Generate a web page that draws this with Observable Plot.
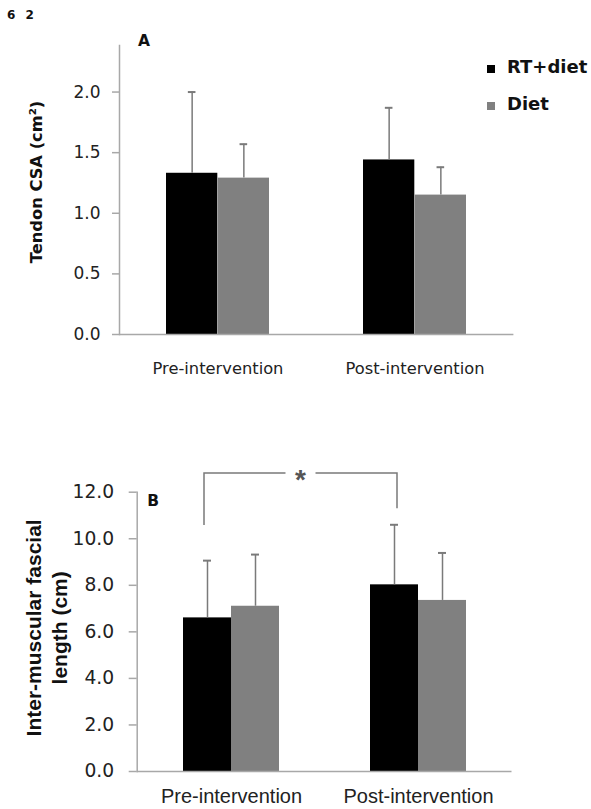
<!DOCTYPE html>
<html>
<head>
<meta charset="utf-8">
<script src="https://cdn.jsdelivr.net/npm/d3@7"></script>
<script src="https://cdn.jsdelivr.net/npm/@observablehq/plot@0.6"></script>
<style>
  body { margin: 0; background: #fff; }
  #wrap { position: relative; width: 591px; height: 809px; overflow: hidden; font-family: "DejaVu Sans", sans-serif; }
  #panelA { position: absolute; left: 0; top: 0; z-index: 1; }
  #panelB { position: absolute; left: 0; top: 400px; z-index: 1; }
  #fighead { position: absolute; z-index: 5; left: 7px; top: 9px; font: bold 12px "DejaVu Sans", sans-serif; line-height: 1; color: #111; white-space: pre; letter-spacing: 3px; }
  #legend { position: absolute; left: 0; top: 0; z-index: 5; }
  .sw { position: absolute; width: 8px; height: 8px; }
  .lt { position: absolute; font: bold 18px "DejaVu Sans", sans-serif; line-height: 1; color: #111; white-space: nowrap; }
</style>
</head>
<body>
<div id="wrap">
  <div id="fighead">6 2</div>
  <div id="panelA"></div>
  <div id="panelB"></div>
  <div id="legend"></div>
</div>
<script>
// ---- data ----
const groups = ["Pre-intervention", "Post-intervention"];
const seriesNames = ["RT+diet", "Diet"];
const seriesColors = ["#000000", "#808080"];

// Panel A: Tendon CSA (cm²)
const csaRT = [1.33, 1.44];
const csaRTsd = [0.67, 0.43];
const csaDiet = [1.29, 1.15];
const csaDietSd = [0.28, 0.23];
const csaTicks = [0, 0.5, 1.0, 1.5, 2.0];

// Panel B: Inter-muscular fascial length (cm)
const lenRT = [6.60, 8.02];
const lenRTsd = [2.46, 2.58];
const lenDiet = [7.10, 7.35];
const lenDietSd = [2.22, 2.04];
const lenTicks = [0, 2, 4, 6, 8, 10, 12];

// significance bracket (RT+diet pre vs post), in data units
const sigLevel = 12.8;
const sigFeet = [10.57, 11.29];
const sigLabel = "*";

function rowsFor(m1, s1, m2, s2) {
  return groups.flatMap((g, i) => [
    {group: g, series: seriesNames[0], mean: m1[i], sd: s1[i]},
    {group: g, series: seriesNames[1], mean: m2[i], sd: s2[i]}
  ]);
}

function makePanel(o) {
  const step = (o.width - o.mL - o.mR) / 2;
  const bw = step * (1 - o.pi);
  const barW = bw / 2;
  const rows = rowsFor(o.m1, o.s1, o.m2, o.s2);
  const s0 = rows.filter(d => d.series === seriesNames[0]);
  const s1 = rows.filter(d => d.series === seriesNames[1]);
  const errStroke = "#7a7a7a";
  const capHalf = 4;
  const plot = Plot.plot({
    width: o.width, height: o.height,
    marginLeft: o.mL, marginRight: o.mR, marginTop: o.mT, marginBottom: o.mB,
    style: {fontFamily: "DejaVu Sans, sans-serif", background: "transparent", overflow: "visible", color: "#222"},
    x: {domain: groups, paddingInner: o.pi, paddingOuter: o.pi / 2, label: null},
    y: {domain: o.yDomain, label: null},
    marks: [
      Plot.barY(s0, {x: "group", y: "mean", fill: seriesColors[0], insetRight: barW}),
      Plot.barY(s1, {x: "group", y: "mean", fill: seriesColors[1], insetLeft: barW}),
      Plot.ruleX(s0, {x: "group", y1: "mean", y2: d => d.mean + d.sd, dx: -barW / 2, stroke: errStroke, strokeWidth: 1.5}),
      Plot.ruleX(s1, {x: "group", y1: "mean", y2: d => d.mean + d.sd, dx: barW / 2, stroke: errStroke, strokeWidth: 1.5}),
      Plot.tickY(s0, {x: "group", y: d => d.mean + d.sd, insetLeft: barW / 2 - capHalf, insetRight: bw - barW / 2 - capHalf, stroke: errStroke, strokeWidth: 2}),
      Plot.tickY(s1, {x: "group", y: d => d.mean + d.sd, insetLeft: bw - barW / 2 - capHalf, insetRight: barW / 2 - capHalf, stroke: errStroke, strokeWidth: 2}),
      Plot.ruleY([0], {stroke: "#a8a8a8", strokeWidth: 1.5}),
      Plot.frame({anchor: "left", stroke: "#a8a8a8", strokeWidth: 1.5}),
      Plot.axisY({ticks: o.ticks, tickFormat: d => d.toFixed(1), tickSize: o.tickSize, tickPadding: o.tickPad,
        stroke: "#a8a8a8", strokeWidth: 1.5, fill: "#222", fontSize: o.tickFont, fontFamily: "DejaVu Sans, sans-serif", label: null}),
      Plot.axisX({tickSize: 0, tickPadding: o.xPad, fill: "#222", fontSize: o.xFont, fontFamily: o.xFamily, label: null}),
      Plot.text([o.yLabel], {frameAnchor: "left", text: d => d, rotate: -90, dx: o.yLabelDx, dy: o.yLabelDy,
        textAnchor: "middle", lineAnchor: "middle", fontSize: o.yLabelFont, fontWeight: "bold",
        fontFamily: o.yLabelFamily, lineHeight: o.yLabelLH || 1, fill: "#111"}),
      Plot.text([o.panelLetter], {frameAnchor: "top-left", text: d => d, dx: o.letterDx, dy: o.letterDy,
        textAnchor: "start", lineAnchor: "bottom", fontSize: o.letterFont, fontWeight: "bold", fill: "#111"})
    ]
  });
  return {plot, barW};
}

const A = makePanel({
  width: 591, height: 390, mL: 119, mR: 77.6, mT: 45, mB: 56, pi: 0.4757,
  m1: csaRT, s1: csaRTsd, m2: csaDiet, s2: csaDietSd,
  yDomain: [0, 2.384], ticks: csaTicks, tickSize: 7, tickPad: 12, tickFont: 17,
  xPad: 28, xFont: 16.3, xFamily: "DejaVu Sans, sans-serif",
  yLabel: "Tendon CSA (cm²)", yLabelDx: -83, yLabelDy: -8, yLabelFont: 16.3, yLabelFamily: "DejaVu Sans, sans-serif",
  panelLetter: "A", letterDx: 18.5, letterDy: 0.5, letterFont: 15.5
});
document.getElementById("panelA").appendChild(A.plot);

const B = makePanel({
  width: 591, height: 409, mL: 136.7, mR: 79.5, mT: 91.7, mB: 38, pi: 0.4877,
  m1: lenRT, s1: lenRTsd, m2: lenDiet, s2: lenDietSd,
  yDomain: [0, 12], ticks: lenTicks, tickSize: 8, tickPad: 15, tickFont: 18.7,
  xPad: 17.5, xFont: 20, xFamily: "Liberation Sans, Arial, sans-serif",
  yLabel: "Inter-muscular fascial\nlength (cm)", yLabelDx: -91.7, yLabelDy: -4, yLabelFont: 21,
  yLabelFamily: "Liberation Sans, Arial, sans-serif", yLabelLH: 1.25,
  panelLetter: "B", letterDx: 10, letterDy: 13.3, letterFont: 15.5
});
document.getElementById("panelB").appendChild(B.plot);

// significance bracket, positioned with panel B's own scales
(function () {
  const svg = d3.select(B.plot);
  const sx = B.plot.scale("x"), sy = B.plot.scale("y");
  const xL = sx.apply(groups[0]) + B.barW / 2 - 3;
  const xR = sx.apply(groups[1]) + B.barW / 2 + 3;
  const yTop = sy.apply(sigLevel);
  const mid = (xL + xR) / 2;
  const gap = 15;
  const g = svg.append("g").attr("stroke", "#7a7a7a").attr("stroke-width", 1.5).attr("fill", "none");
  g.append("path").attr("d", `M${xL},${sy.apply(sigFeet[0])}V${yTop}H${mid - gap}`);
  g.append("path").attr("d", `M${mid + gap},${yTop}H${xR}V${sy.apply(sigFeet[1])}`);
  svg.append("text").attr("x", mid).attr("y", yTop + 16).attr("text-anchor", "middle")
    .attr("font-family", "Liberation Sans, Arial, sans-serif").attr("font-weight", "bold")
    .attr("font-size", 28).attr("fill", "#555").text(sigLabel);
})();

// legend
(function () {
  const leg = document.getElementById("legend");
  const tops = [58, 94.8];
  seriesNames.forEach((name, i) => {
    const sw = document.createElement("div");
    sw.className = "sw";
    sw.style.left = "487px";
    sw.style.top = (tops[i] + 7) + "px";
    sw.style.background = seriesColors[i];
    leg.appendChild(sw);
    const t = document.createElement("div");
    t.className = "lt";
    t.style.left = "507px";
    t.style.top = tops[i] + "px";
    t.textContent = name;
    leg.appendChild(t);
  });
})();
</script>
</body>
</html>
